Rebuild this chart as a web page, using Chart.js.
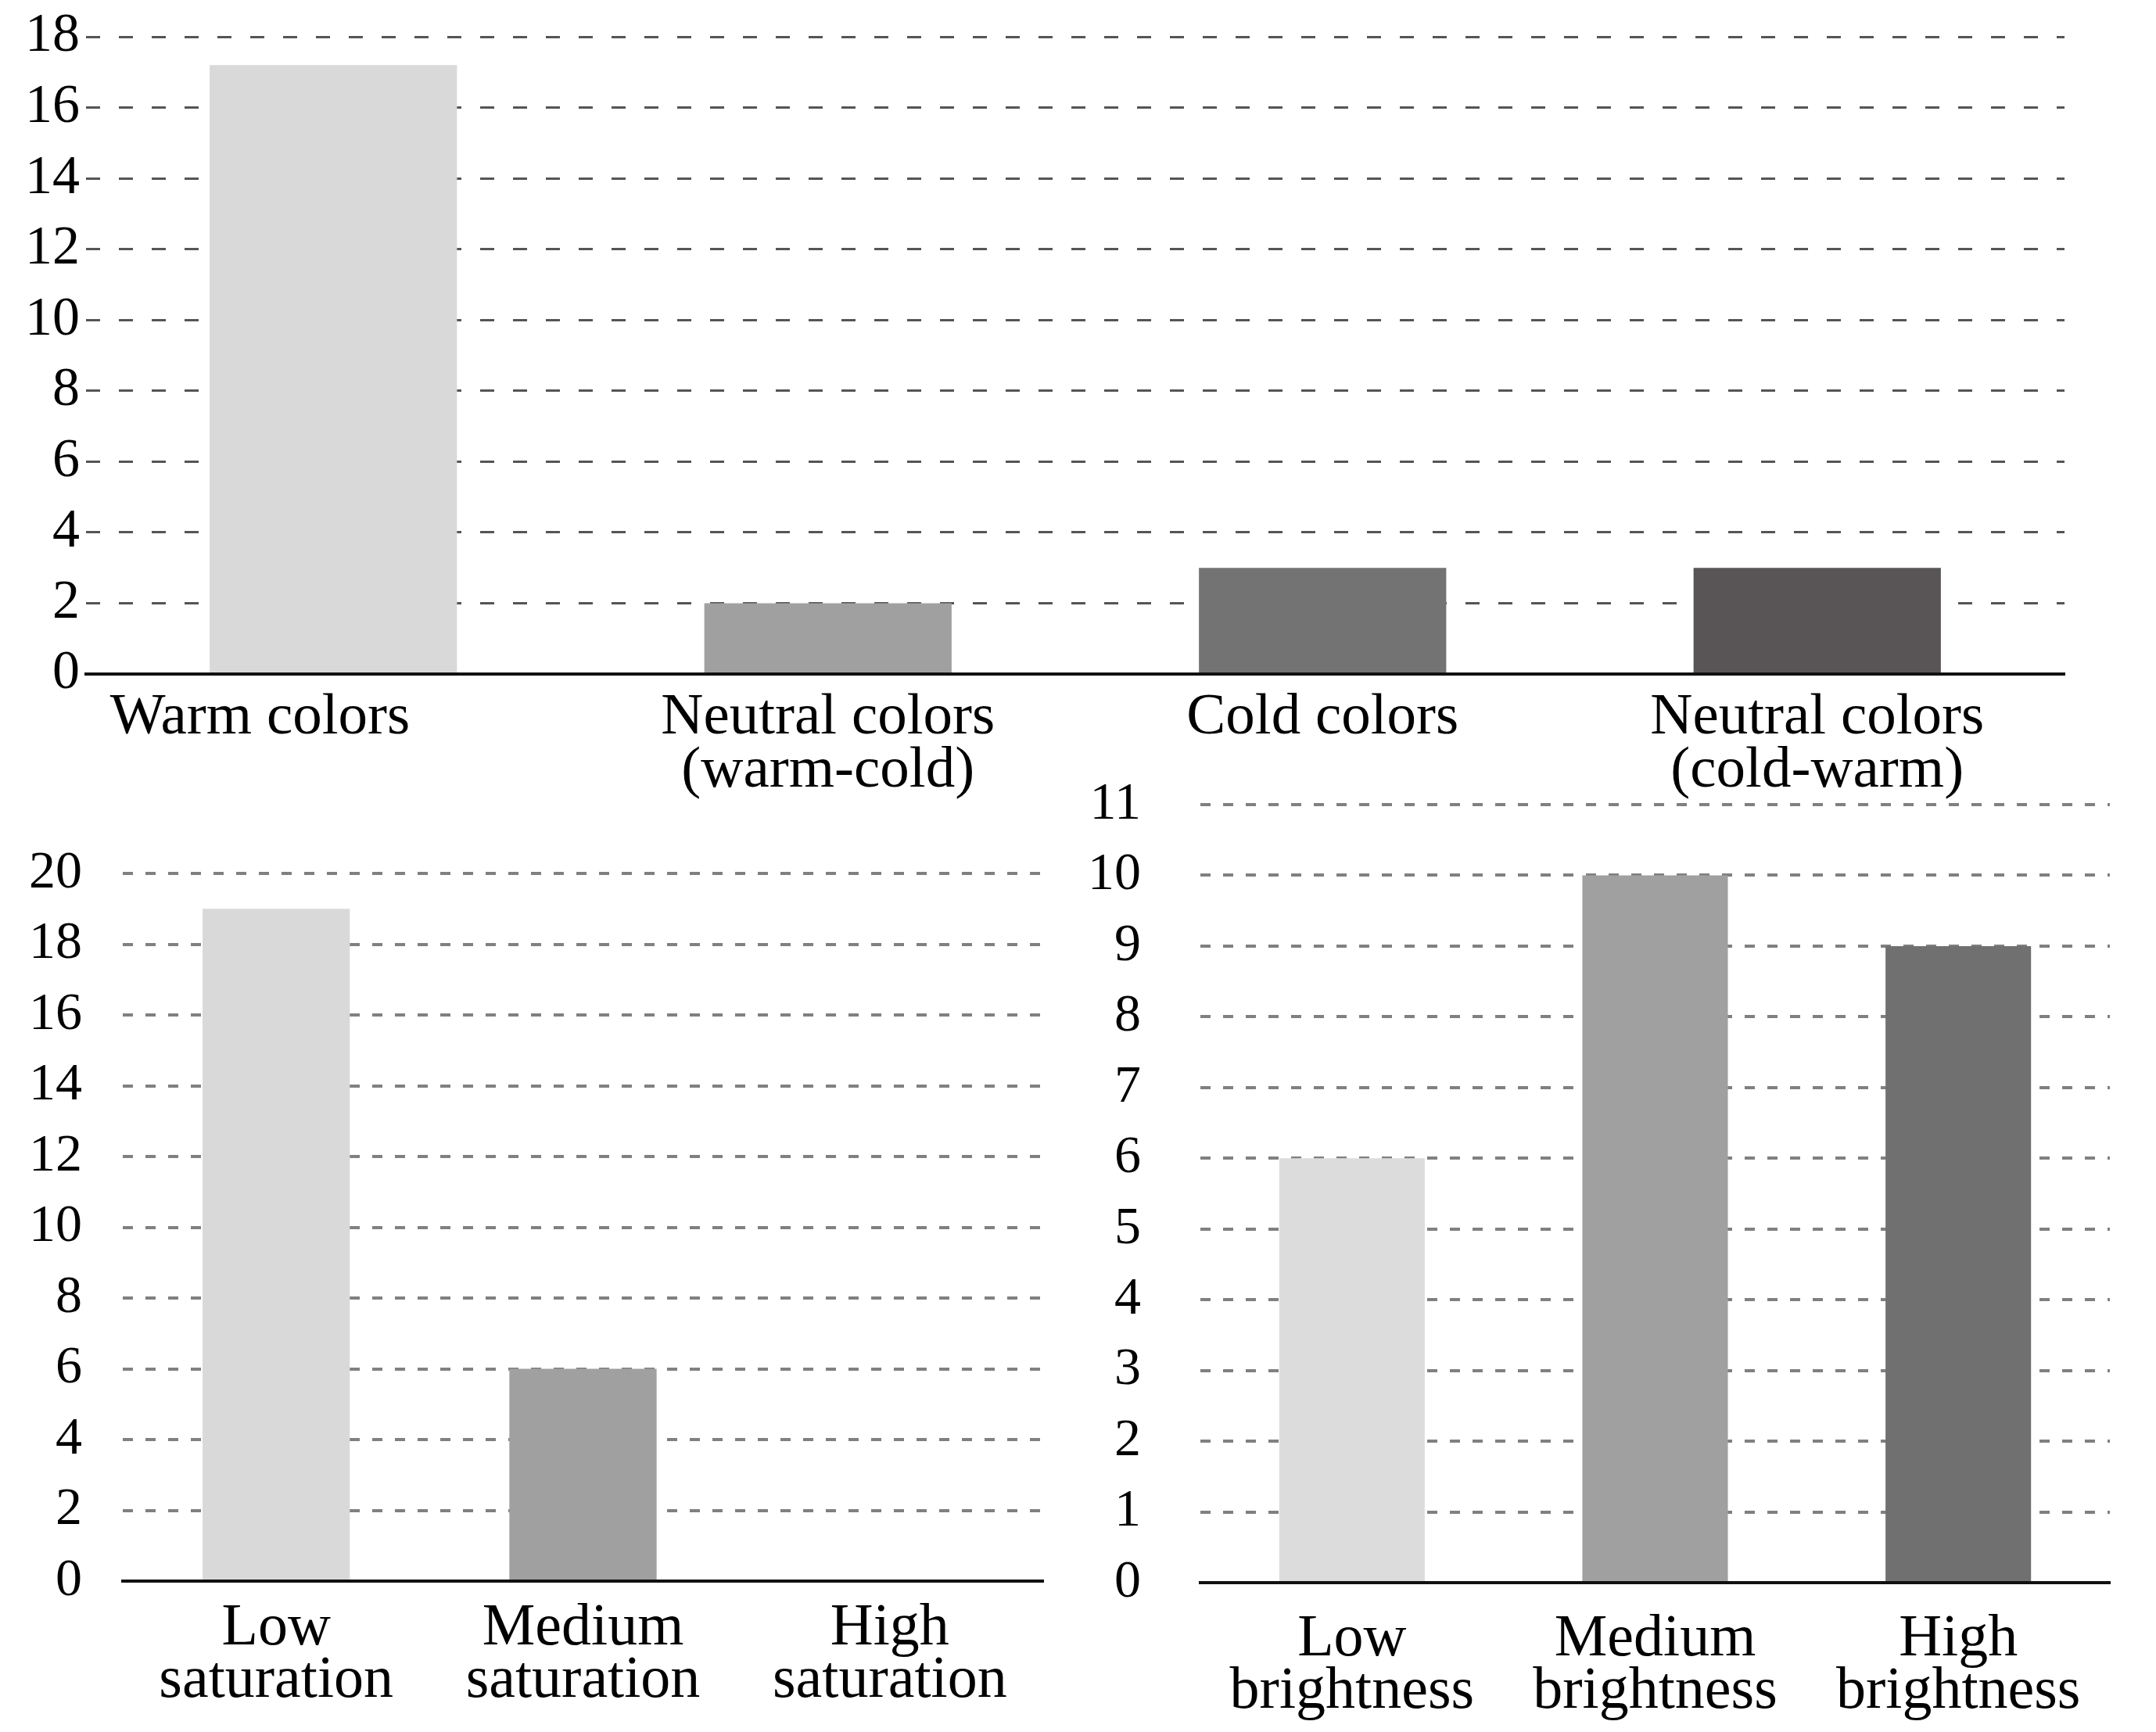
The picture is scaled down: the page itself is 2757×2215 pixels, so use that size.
<!DOCTYPE html>
<html>
<head>
<meta charset="utf-8">
<script src="https://cdn.jsdelivr.net/npm/chart.js@4.4.1/dist/chart.umd.min.js"></script>
<style>
  body { margin: 0; background: #fff; width: 2757px; height: 2215px; position: relative; overflow: hidden; }
  canvas { position: absolute; }
</style>
</head>
<body>
<canvas id="toneChart" width="2757" height="1040" style="left:0;top:0"></canvas>
<canvas id="satChart" width="1380" height="1215" style="left:0;top:1000px"></canvas>
<canvas id="brightChart" width="1377" height="1255" style="left:1380px;top:960px"></canvas>
<script>
// data
// trailing spaces push "Warm colors" left, as in the original
const toneLabels = [["Warm colors          "], ["Neutral colors", "(warm-cold)"], ["Cold colors"], ["Neutral colors", "(cold-warm)"]];
const toneValues = [17.2, 2, 3, 3];
const toneColors = ["#d9d9d9", "#a0a0a0", "#737373", "#595557"];

const satLabels = [["Low", "saturation"], ["Medium", "saturation"], ["High", "saturation"]];
const satValues = [19, 6, 0];
const satColors = ["#d9d9d9", "#a0a0a0", "#737373"];

const brightLabels = [["Low", "brightness"], ["Medium", "brightness"], ["High", "brightness"]];
const brightValues = [6, 10, 9];
const brightColors = ["#dcdcdc", "#a0a0a0", "#707070"];

const FONT = "'Liberation Serif', 'Times New Roman', serif";

function makeChart(id, labels, values, colors, o) {
    const canvas = document.getElementById(id);
    const H = canvas.height, W = canvas.width;
    return new Chart(canvas.getContext("2d"), {
        type: "bar",
        data: {
            labels: labels,
            datasets: [{
                data: values,
                backgroundColor: colors,
                borderWidth: 0,
                categoryPercentage: 1,
                barPercentage: o.barPct
            }]
        },
        options: {
            responsive: false,
            animation: false,
            devicePixelRatio: 1,
            layout: { padding: { top: o.top, right: W - o.right, left: 0, bottom: 0 } },
            plugins: { legend: { display: false }, tooltip: { enabled: false } },
            scales: {
                x: {
                    grid: { display: false },
                    border: { display: true, color: "#111", width: 4, z: 1 },
                    ticks: {
                        color: "#000",
                        padding: o.labelPad,
                        maxRotation: 0,
                        autoSkip: false,
                        font: { family: FONT, size: o.labelSize, lineHeight: o.lineHeight }
                    },
                    afterFit: s => { s.height = H - o.bottom; }
                },
                y: {
                    min: 0,
                    max: o.max,
                    grid: {
                        color: o.gridColor,
                        lineWidth: o.gridWidth,
                        drawTicks: false
                    },
                    border: { display: false, dash: o.dash },
                    ticks: {
                        stepSize: o.step,
                        color: "#000",
                        padding: o.tickPad,
                        font: { family: FONT, size: o.tickSize }
                    },
                    afterFit: s => {
                        s.width = o.left;
                        // keep the plot top where the figure has it
                        s.paddingTop = 0;
                        s.paddingBottom = 0;
                    }
                }
            }
        }
    });
}

makeChart("toneChart", toneLabels, toneValues, toneColors, {
    left: 110, right: 2640, top: 47, bottom: 862,
    max: 18, step: 2, barPct: 0.5,
    gridColor: "#555", gridWidth: 3, dash: [18, 24],
    tickSize: 70, tickPad: 8,
    labelSize: 75, labelPad: 15, lineHeight: 0.9
});

makeChart("satChart", satLabels, satValues, satColors, {
    left: 157, right: 1334, top: 117, bottom: 1022,
    max: 20, step: 2, barPct: 0.48,
    gridColor: "#808080", gridWidth: 4, dash: [13, 16],
    tickSize: 68, tickPad: 52,
    labelSize: 76, labelPad: 20, lineHeight: 0.88
});

makeChart("brightChart", brightLabels, brightValues, brightColors, {
    left: 155, right: 1318, top: 69, bottom: 1064,
    max: 11, step: 1, barPct: 0.48,
    gridColor: "#808080", gridWidth: 4, dash: [13, 16],
    tickSize: 68, tickPad: 76,
    labelSize: 76, labelPad: 31, lineHeight: 0.89
});
</script>
</body>
</html>
